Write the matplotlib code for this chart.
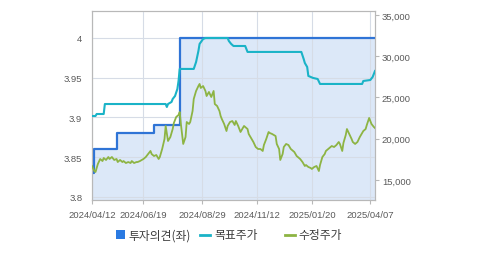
import matplotlib
matplotlib.use("Agg")
import matplotlib.pyplot as plt
from matplotlib.patches import Rectangle
from matplotlib.lines import Line2D
from matplotlib.ticker import FuncFormatter

# x = trading-session index since 2024/04/12
tick_sessions = [0, 44, 94, 141, 188, 238]
tick_labels = ["2024/04/12", "2024/06/19", "2024/08/29", "2024/11/12", "2025/01/20", "2025/04/07"]

# 투자의견 (left axis), step series
opinion_session = [0, 2, 21, 53, 75, 242]
opinion_value = [3.83, 3.86, 3.88, 3.89, 4.0, 4.0]

# 목표주가 (right axis)
target_session = [0, 3, 4, 10, 11, 63, 64, 65, 68, 69, 71, 73, 74, 75, 87, 89, 91, 92, 95, 97,
                  116, 117, 119, 121, 131, 133, 179, 181, 182, 184, 185, 189, 193, 195, 231, 232,
                  238, 240, 241, 242]
target_price = [22760, 22760, 23000, 23000, 24210, 24210, 23850, 24210, 24460, 24820,
                25180, 26030, 27000, 28460, 28460, 29300, 30640, 31490, 32090, 32210,
                32210, 31850, 31490, 31240, 31240, 30520, 30520, 29670, 29180, 28700,
                27610, 27370, 27240, 26640, 26640, 27000, 27120, 27490, 27850, 28210]

# 수정주가 (right axis)
price_session = [0, 2, 3, 5, 7, 9, 10, 12, 14, 15, 17, 19, 21, 22, 24, 26, 27, 29, 31, 33,
                 34, 36, 38, 39, 41, 44, 46, 48, 50, 51, 53, 55, 57, 58, 60, 62, 63, 65, 67, 69,
                 70, 72, 74, 75, 76, 78, 80, 81, 83, 84, 86, 87, 89, 91, 92, 93, 95, 97, 98, 100,
                 102, 104, 105, 107, 109, 110, 111, 113, 115, 116, 118, 120, 122, 123, 125, 127,
                 128, 130, 133, 134, 136, 138, 140, 142, 144, 146, 147, 149, 151, 152, 154, 157,
                 158, 160, 161, 163, 164, 166, 168, 170, 171, 173, 175, 176, 178, 180, 182, 183,
                 185, 187, 188, 190, 192, 194, 195, 197, 199, 200, 202, 204, 205, 207, 209, 211,
                 212, 214, 215, 217, 218, 220, 222, 223, 225, 227, 229, 230, 232, 234, 235, 237,
                 239, 241, 242]
adj_price = [16700, 16090, 15970, 16940, 17550, 17300, 17670, 17430, 17790, 17550,
             17790, 17430, 17550, 17180, 17430, 17180, 17300, 17060, 17180, 17060,
             17300, 17060, 17180, 17180, 17300, 17550, 17790, 18150, 18520, 18150,
             17910, 18030, 17550, 17790, 18760, 19970, 21550, 19730, 20210, 21180,
             21910, 22640, 22880, 23240, 21790, 19370, 20210, 22030, 21790, 22030,
             23360, 24820, 25790, 26390, 26640, 26150, 26390, 25790, 25180, 25670,
             25060, 25790, 24210, 23970, 23360, 22760, 22400, 21790, 20940, 21550,
             22030, 22150, 21670, 22150, 21550, 20820, 21060, 21550, 21180, 20580,
             20090, 19610, 19000, 18760, 18760, 18520, 19240, 19970, 20820, 20700,
             20580, 20330, 19370, 18760, 17430, 18150, 19000, 19370, 19240, 18760,
             18640, 18400, 17910, 17790, 17550, 17180, 16700, 16820, 16580, 16460,
             16340, 16580, 16700, 16090, 16820, 17790, 18150, 18520, 18760, 19000,
             19120, 19000, 19240, 19610, 19370, 18520, 19490, 20460, 21180, 20580,
             19970, 19610, 19370, 19610, 20210, 20460, 20940, 21180, 21670, 22520,
             21790, 21430, 21300]

left_ticks = [3.8, 3.85, 3.9, 3.95, 4.0]
right_ticks = [15000, 20000, 25000, 30000, 35000]

BLUE = "#2f74d6"
CYAN = "#1ab3c7"
GREEN = "#8db443"
FILL = "#dce8f8"
GRID = "#d6dce6"
SPINE = "#b8b8b8"
TXT = "#5a5a5a"

W, H = 479, 255
fig = plt.figure(figsize=(W / 100, H / 100), dpi=100)
ax = fig.add_axes([92 / W, 1 - 201 / H, (375 - 92) / W, (201 - 12) / H])
ax2 = ax.twinx()

ax.fill_between(opinion_session, opinion_value, 3.7, step="post", color=FILL, lw=0, zorder=1)
ax.plot(opinion_session, opinion_value, drawstyle="steps-post", color=BLUE, lw=1.6, zorder=3)

ax2.plot(target_session, target_price, color=CYAN, lw=1.5, zorder=3)
ax2.plot(price_session, adj_price, color=GREEN, lw=1.3, zorder=4)

ax.set_xlim(0, 242)
ax.set_ylim(3.796, 4.034)
ax2.set_ylim(12580, 35480)

ax.set_xticks(tick_sessions)
ax.set_xticklabels(tick_labels)
ax.set_yticks(left_ticks)
ax.yaxis.set_major_formatter(FuncFormatter(lambda v, p: f"{v:g}"))
ax2.set_yticks(right_ticks)
ax2.yaxis.set_major_formatter(FuncFormatter(lambda v, p: f"{int(v):,}"))

ax.set_axisbelow(False)
ax.grid(True, color=GRID, lw=0.8, zorder=2)

for a in (ax, ax2):
    for s in a.spines.values():
        s.set_color(SPINE)
        s.set_linewidth(0.8)

ax.tick_params(axis="y", length=0, pad=7, labelcolor=TXT)
ax.tick_params(axis="x", length=3, color=SPINE, pad=4, labelcolor=TXT)
ax2.tick_params(axis="y", length=3, color=SPINE, pad=2, labelcolor=TXT)
for lab in ax.get_xticklabels() + ax.get_yticklabels() + ax2.get_yticklabels():
    lab.set_fontfamily("Liberation Sans")
    lab.set_fontsize(6.8)

# legend drawn by hand to match the spacing
ly = 1 - 236 / H
kr = dict(family=["Noto Sans CJK KR", "DejaVu Sans"], size=8.5, color="#3c3c3c", va="center")
fig.add_artist(Rectangle((116 / W, 1 - 240 / H), 9 / W, 9 / H, transform=fig.transFigure,
                         color="#2a7ae2", lw=0))
fig.text(128 / W, ly, "투자의견(좌)", **kr)
fig.add_artist(Line2D([200 / W, 210 / W], [ly, ly], transform=fig.transFigure, color=CYAN, lw=2))
fig.text(214 / W, ly, "목표주가", **kr)
fig.add_artist(Line2D([285 / W, 295 / W], [ly, ly], transform=fig.transFigure, color=GREEN, lw=2))
fig.text(298 / W, ly, "수정주가", **kr)

fig.savefig("out.png", dpi=100)
